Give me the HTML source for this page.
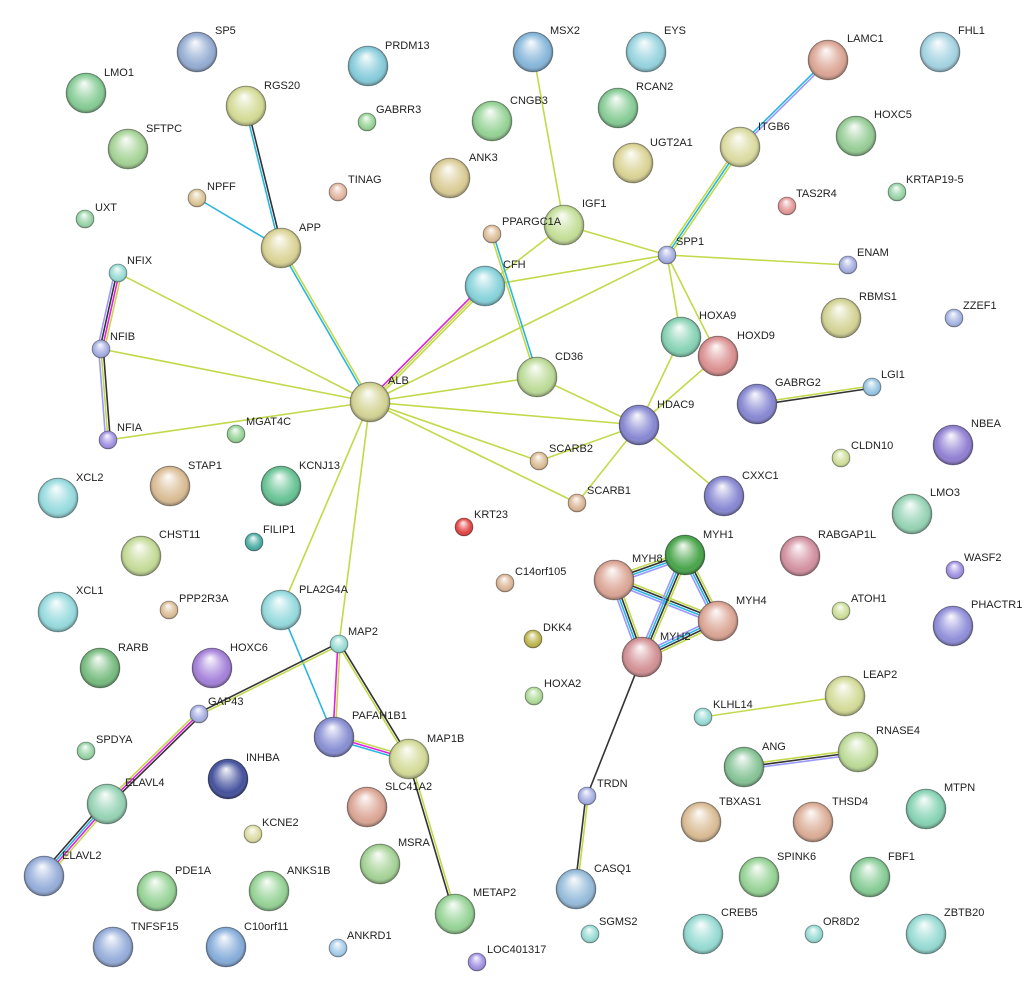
<!DOCTYPE html>
<html><head><meta charset="utf-8"><style>
html,body{margin:0;padding:0;background:#fff}
svg{display:block}
text{font-family:"Liberation Sans",sans-serif;font-size:11px;fill:#222}
</style></head><body>
<svg id="s" width="1025" height="1007" viewBox="0 0 1025 1007" xmlns="http://www.w3.org/2000/svg">
<defs>
<radialGradient id="G" cx="50%" cy="50%" r="50%" fx="45%" fy="25%"><stop offset="0" stop-color="#fff" stop-opacity=".95"/><stop offset=".5" stop-color="#fff" stop-opacity=".35"/><stop offset=".8" stop-color="#fff" stop-opacity=".05"/><stop offset="1" stop-color="#000" stop-opacity=".4"/></radialGradient>
</defs>
<g id="edges"></g>
<g id="nodes">
<circle id="SP5" cx="197" cy="52" r="20" fill="#8fa8d0"/>
<circle id="PRDM13" cx="368" cy="66" r="20" fill="#7fc8d8"/>
<circle id="MSX2" cx="533" cy="52" r="20" fill="#7fb2d8"/>
<circle id="EYS" cx="646" cy="52" r="20" fill="#8fd0dc"/>
<circle id="LAMC1" cx="828" cy="60" r="20" fill="#d9a08e"/>
<circle id="FHL1" cx="940" cy="52" r="20" fill="#9fd0e0"/>
<circle id="LMO1" cx="86" cy="93" r="20" fill="#7fc98f"/>
<circle id="RGS20" cx="246" cy="106" r="20" fill="#d0d88e"/>
<circle id="GABRR3" cx="367" cy="122" r="9" fill="#8fd08f"/>
<circle id="CNGB3" cx="492" cy="121" r="20" fill="#8fd08f"/>
<circle id="RCAN2" cx="618" cy="108" r="20" fill="#7fc98f"/>
<circle id="UGT2A1" cx="633" cy="163" r="20" fill="#d8d08e"/>
<circle id="ITGB6" cx="740" cy="147" r="20" fill="#d8d89a"/>
<circle id="HOXC5" cx="856" cy="136" r="20" fill="#8fc98f"/>
<circle id="SFTPC" cx="128" cy="149" r="20" fill="#9fd08f"/>
<circle id="ANK3" cx="450" cy="178" r="20" fill="#d8c88e"/>
<circle id="TINAG" cx="338" cy="192" r="9" fill="#e0b09a"/>
<circle id="NPFF" cx="197" cy="198" r="9" fill="#d8c08e"/>
<circle id="KRTAP19-5" cx="897" cy="192" r="9" fill="#8fd09f"/>
<circle id="TAS2R4" cx="787" cy="206" r="9" fill="#e09090"/>
<circle id="UXT" cx="85" cy="219" r="9" fill="#8fd0a0"/>
<circle id="IGF1" cx="564" cy="225" r="20" fill="#c0dc90"/>
<circle id="PPARGC1A" cx="492" cy="234" r="9" fill="#d8b88e"/>
<circle id="APP" cx="281" cy="248" r="20" fill="#d8d08e"/>
<circle id="SPP1" cx="667" cy="255" r="9" fill="#9fa8e0"/>
<circle id="ENAM" cx="848" cy="265" r="9" fill="#9fa8e0"/>
<circle id="NFIX" cx="118" cy="273" r="9" fill="#8fd8d0"/>
<circle id="CFH" cx="485" cy="286" r="20" fill="#7fd0d8"/>
<circle id="RBMS1" cx="841" cy="318" r="20" fill="#d0d08e"/>
<circle id="ZZEF1" cx="954" cy="318" r="9" fill="#9fb0e0"/>
<circle id="HOXA9" cx="681" cy="337" r="20" fill="#7fd0b0"/>
<circle id="HOXD9" cx="718" cy="356" r="20" fill="#d98a8a"/>
<circle id="NFIB" cx="101" cy="349" r="9" fill="#9fa8e0"/>
<circle id="CD36" cx="537" cy="377" r="20" fill="#b8d890"/>
<circle id="ALB" cx="370" cy="402" r="20" fill="#d0d08e"/>
<circle id="LGI1" cx="872" cy="387" r="9" fill="#8fc0e0"/>
<circle id="GABRG2" cx="757" cy="404" r="20" fill="#8080d0"/>
<circle id="HDAC9" cx="639" cy="425" r="20" fill="#8080d0"/>
<circle id="NBEA" cx="953" cy="445" r="20" fill="#8a78d0"/>
<circle id="MGAT4C" cx="236" cy="434" r="9" fill="#8fd08f"/>
<circle id="NFIA" cx="108" cy="440" r="9" fill="#9a8ae0"/>
<circle id="SCARB2" cx="539" cy="461" r="9" fill="#d8b88e"/>
<circle id="CLDN10" cx="841" cy="458" r="9" fill="#c8dc90"/>
<circle id="XCL2" cx="58" cy="498" r="20" fill="#8fd8dc"/>
<circle id="STAP1" cx="170" cy="486" r="20" fill="#d8b88e"/>
<circle id="KCNJ13" cx="281" cy="486" r="20" fill="#5fc08f"/>
<circle id="CXXC1" cx="724" cy="496" r="20" fill="#8080d0"/>
<circle id="SCARB1" cx="577" cy="503" r="9" fill="#d8b08e"/>
<circle id="LMO3" cx="912" cy="514" r="20" fill="#8fd0b0"/>
<circle id="KRT23" cx="464" cy="527" r="9" fill="#e03838"/>
<circle id="FILIP1" cx="254" cy="542" r="9" fill="#40a8a0"/>
<circle id="CHST11" cx="141" cy="556" r="20" fill="#c0d890"/>
<circle id="MYH1" cx="685" cy="555" r="20" fill="#3ea040"/>
<circle id="RABGAP1L" cx="800" cy="556" r="20" fill="#d08a9a"/>
<circle id="MYH8" cx="614" cy="580" r="20" fill="#d9a08e"/>
<circle id="WASF2" cx="955" cy="570" r="9" fill="#9a8ae0"/>
<circle id="C14orf105" cx="505" cy="583" r="9" fill="#d8b08e"/>
<circle id="XCL1" cx="58" cy="612" r="20" fill="#8fd8dc"/>
<circle id="PPP2R3A" cx="169" cy="610" r="9" fill="#d8b88e"/>
<circle id="PLA2G4A" cx="281" cy="610" r="20" fill="#8fd8dc"/>
<circle id="ATOH1" cx="841" cy="611" r="9" fill="#c8dc90"/>
<circle id="MYH4" cx="718" cy="621" r="20" fill="#d9a08e"/>
<circle id="PHACTR1" cx="953" cy="626" r="20" fill="#8a88d8"/>
<circle id="DKK4" cx="533" cy="639" r="9" fill="#b8b040"/>
<circle id="MAP2" cx="339" cy="644" r="9" fill="#8fd8d0"/>
<circle id="RARB" cx="100" cy="668" r="20" fill="#6fb878"/>
<circle id="HOXC6" cx="212" cy="668" r="20" fill="#a07ad8"/>
<circle id="MYH2" cx="642" cy="657" r="20" fill="#d08a8e"/>
<circle id="HOXA2" cx="534" cy="696" r="9" fill="#a8d890"/>
<circle id="LEAP2" cx="845" cy="696" r="20" fill="#d0d890"/>
<circle id="GAP43" cx="199" cy="714" r="9" fill="#9fa8e0"/>
<circle id="KLHL14" cx="703" cy="717" r="9" fill="#8fd8d0"/>
<circle id="PAFAH1B1" cx="334" cy="737" r="20" fill="#8088d0"/>
<circle id="MAP1B" cx="409" cy="759" r="20" fill="#d0d890"/>
<circle id="RNASE4" cx="858" cy="752" r="20" fill="#b8d890"/>
<circle id="ANG" cx="744" cy="767" r="20" fill="#7fc090"/>
<circle id="SPDYA" cx="86" cy="751" r="9" fill="#8fd09f"/>
<circle id="INHBA" cx="228" cy="779" r="20" fill="#3a4898"/>
<circle id="SLC41A2" cx="367" cy="807" r="20" fill="#d9a08e"/>
<circle id="ELAVL4" cx="107" cy="804" r="20" fill="#8fd0b0"/>
<circle id="TRDN" cx="587" cy="796" r="9" fill="#9fa8e0"/>
<circle id="MTPN" cx="926" cy="809" r="20" fill="#7fd0b0"/>
<circle id="TBXAS1" cx="701" cy="822" r="20" fill="#d8b88e"/>
<circle id="THSD4" cx="813" cy="822" r="20" fill="#d9a890"/>
<circle id="KCNE2" cx="253" cy="834" r="9" fill="#d8d89a"/>
<circle id="MSRA" cx="380" cy="864" r="20" fill="#9fd08f"/>
<circle id="ELAVL2" cx="44" cy="876" r="20" fill="#8fa8d8"/>
<circle id="PDE1A" cx="157" cy="891" r="20" fill="#8fd08f"/>
<circle id="ANKS1B" cx="269" cy="891" r="20" fill="#8fd08f"/>
<circle id="SPINK6" cx="759" cy="877" r="20" fill="#8fd08f"/>
<circle id="FBF1" cx="870" cy="877" r="20" fill="#7fc98f"/>
<circle id="METAP2" cx="455" cy="914" r="20" fill="#8fd08f"/>
<circle id="CASQ1" cx="576" cy="889" r="20" fill="#8fb8d8"/>
<circle id="TNFSF15" cx="113" cy="947" r="20" fill="#8fa8d8"/>
<circle id="C10orf11" cx="226" cy="947" r="20" fill="#7fa8d8"/>
<circle id="ANKRD1" cx="338" cy="948" r="9" fill="#9fc8e8"/>
<circle id="SGMS2" cx="590" cy="934" r="9" fill="#8fd8d0"/>
<circle id="CREB5" cx="703" cy="934" r="20" fill="#8fd8d0"/>
<circle id="OR8D2" cx="814" cy="934" r="9" fill="#8fd8d0"/>
<circle id="ZBTB20" cx="926" cy="934" r="20" fill="#8fd8d0"/>
<circle id="LOC401317" cx="477" cy="962" r="9" fill="#9a8ae0"/>
</g>
<g id="shine"></g>
<g id="labels">
<text x="215" y="34">SP5</text><text x="385" y="49">PRDM13</text><text x="550" y="34">MSX2</text><text x="664" y="34">EYS</text><text x="847" y="42">LAMC1</text><text x="958" y="34">FHL1</text>
<text x="104" y="76">LMO1</text><text x="264" y="89">RGS20</text><text x="376" y="113">GABRR3</text><text x="510" y="104">CNGB3</text><text x="636" y="90">RCAN2</text><text x="650" y="146">UGT2A1</text><text x="758" y="130">ITGB6</text><text x="874" y="118">HOXC5</text>
<text x="146" y="132">SFTPC</text><text x="469" y="161">ANK3</text><text x="348" y="183">TINAG</text><text x="207" y="190">NPFF</text><text x="906" y="183">KRTAP19-5</text><text x="796" y="197">TAS2R4</text><text x="95" y="211">UXT</text>
<text x="582" y="207">IGF1</text><text x="502" y="225">PPARGC1A</text><text x="299" y="231">APP</text><text x="676" y="245">SPP1</text><text x="857" y="256">ENAM</text><text x="127" y="264">NFIX</text><text x="503" y="268">CFH</text>
<text x="859" y="300">RBMS1</text><text x="963" y="309">ZZEF1</text><text x="699" y="319">HOXA9</text><text x="737" y="339">HOXD9</text><text x="110" y="340">NFIB</text><text x="555" y="360">CD36</text><text x="388" y="384">ALB</text>
<text x="881" y="378">LGI1</text><text x="775" y="386">GABRG2</text><text x="657" y="408">HDAC9</text><text x="971" y="427">NBEA</text><text x="246" y="425">MGAT4C</text><text x="117" y="431">NFIA</text><text x="549" y="452">SCARB2</text><text x="851" y="449">CLDN10</text>
<text x="76" y="481">XCL2</text><text x="188" y="469">STAP1</text><text x="299" y="469">KCNJ13</text><text x="742" y="479">CXXC1</text><text x="587" y="494">SCARB1</text><text x="930" y="496">LMO3</text><text x="474" y="518">KRT23</text><text x="263" y="533">FILIP1</text>
<text x="159" y="538">CHST11</text><text x="703" y="538">MYH1</text><text x="818" y="538">RABGAP1L</text><text x="632" y="562">MYH8</text><text x="964" y="561">WASF2</text><text x="515" y="575">C14orf105</text>
<text x="76" y="594">XCL1</text><text x="179" y="602">PPP2R3A</text><text x="299" y="593">PLA2G4A</text><text x="851" y="602">ATOH1</text><text x="736" y="604">MYH4</text><text x="971" y="608">PHACTR1</text><text x="543" y="631">DKK4</text><text x="348" y="635">MAP2</text>
<text x="118" y="651">RARB</text><text x="230" y="651">HOXC6</text><text x="660" y="640">MYH2</text><text x="544" y="687">HOXA2</text><text x="863" y="678">LEAP2</text><text x="208" y="705">GAP43</text><text x="713" y="708">KLHL14</text>
<text x="352" y="719">PAFAH1B1</text><text x="427" y="742">MAP1B</text><text x="876" y="734">RNASE4</text><text x="762" y="750">ANG</text><text x="96" y="743">SPDYA</text><text x="246" y="761">INHBA</text><text x="385" y="790">SLC41A2</text><text x="125" y="786">ELAVL4</text>
<text x="597" y="787">TRDN</text><text x="944" y="791">MTPN</text><text x="719" y="805">TBXAS1</text><text x="832" y="805">THSD4</text><text x="262" y="826">KCNE2</text><text x="398" y="846">MSRA</text><text x="62" y="859">ELAVL2</text>
<text x="175" y="874">PDE1A</text><text x="287" y="874">ANKS1B</text><text x="777" y="860">SPINK6</text><text x="888" y="860">FBF1</text><text x="473" y="896">METAP2</text><text x="594" y="872">CASQ1</text>
<text x="131" y="930">TNFSF15</text><text x="244" y="930">C10orf11</text><text x="347" y="939">ANKRD1</text><text x="599" y="925">SGMS2</text><text x="721" y="916">CREB5</text><text x="823" y="925">OR8D2</text><text x="944" y="916">ZBTB20</text><text x="487" y="953">LOC401317</text>
</g>
</svg>
<script>
(function(){
var NS="http://www.w3.org/2000/svg";
var C={y:"#c2d94a",c:"#2ab5e0",m:"#e020e0",k:"#333333",l:"#9999ff"};
var E=[
["ALB","NFIX","y"],["ALB","NFIB","y"],["ALB","NFIA","y"],["ALB","APP","cy"],["ALB","CFH","myy"],["ALB","SPP1","y"],["ALB","CD36","y"],["ALB","HDAC9","y"],["ALB","SCARB2","y"],["ALB","SCARB1","y"],["ALB","PLA2G4A","y"],["ALB","MAP2","y"],
["NFIX","NFIB","ymkl"],["NFIB","NFIA","kyl"],["APP","RGS20","ck"],["APP","NPFF","c"],
["CFH","IGF1","y"],["CFH","SPP1","y"],["PPARGC1A","CD36","cy"],["IGF1","SPP1","y"],["IGF1","MSX2","y"],["SPP1","ITGB6","ycy"],["ITGB6","LAMC1","cl"],["SPP1","ENAM","y"],["SPP1","HOXA9","y"],["SPP1","HOXD9","y"],["HOXA9","HDAC9","y"],["HOXD9","HDAC9","y"],["CD36","HDAC9","y"],["HDAC9","SCARB2","y"],["HDAC9","SCARB1","y"],["HDAC9","CXXC1","y"],["GABRG2","LGI1","yk"],
["PLA2G4A","PAFAH1B1","c"],["MAP2","GAP43","yk"],["MAP2","PAFAH1B1","ym"],["MAP2","MAP1B","ky"],["PAFAH1B1","MAP1B","ymc"],["MAP1B","METAP2","yk"],["GAP43","ELAVL4","kmy"],["ELAVL4","ELAVL2","ymck"],
["MYH8","MYH1","ykcl"],["MYH8","MYH4","ykcl"],["MYH8","MYH2","ykcl"],["MYH1","MYH4","ykcl"],["MYH1","MYH2","ykcl"],["MYH4","MYH2","ykcl"],["MYH2","TRDN","k"],["TRDN","CASQ1","yk"],["KLHL14","LEAP2","y"],["ANG","RNASE4","ykl"]];
var eg=document.getElementById("edges");
function P(id){var e=document.getElementById(id);return [+e.getAttribute("cx"),+e.getAttribute("cy")];}
E.forEach(function(d){var a=P(d[0]),b=P(d[1]);var dx=b[0]-a[0],dy=b[1]-a[1],L=Math.hypot(dx,dy),nx=-dy/L,ny=dx/L;var n=d[2].length,sp=2.3;
for(var i=0;i<n;i++){var o=(i-(n-1)/2)*sp;var ln=document.createElementNS(NS,"line");ln.setAttribute("x1",a[0]+nx*o);ln.setAttribute("y1",a[1]+ny*o);ln.setAttribute("x2",b[0]+nx*o);ln.setAttribute("y2",b[1]+ny*o);ln.setAttribute("stroke",C[d[2][i]]);ln.setAttribute("stroke-width","1.6");eg.appendChild(ln);}});
var sh=document.getElementById("shine");
Array.prototype.forEach.call(document.querySelectorAll("#nodes circle"),function(c){c.setAttribute("stroke","rgba(0,0,0,0.3)");c.setAttribute("stroke-width","0.8");var s=document.createElementNS(NS,"circle");s.setAttribute("cx",c.getAttribute("cx"));s.setAttribute("cy",c.getAttribute("cy"));s.setAttribute("r",c.getAttribute("r"));s.setAttribute("fill","url(#G)");sh.appendChild(s);});
})();
</script>
</body></html>
